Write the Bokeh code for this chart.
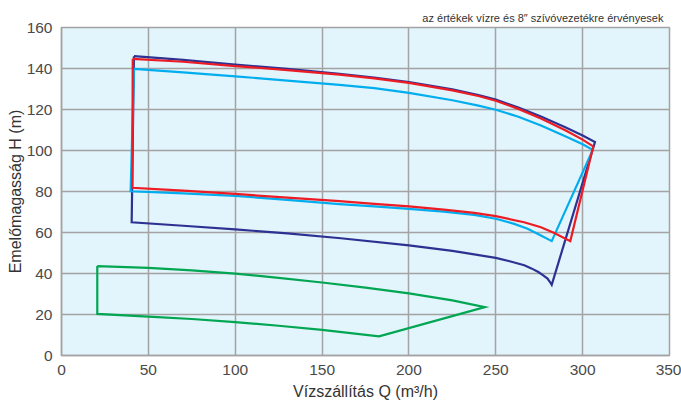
from bokeh.plotting import figure
from bokeh.models import Range1d, FixedTicker, Title
from bokeh.embed import file_html
from bokeh.resources import INLINE

# ---- data (Q in m3/h, H in m) ----
navy_q = [41.7, 70, 100, 130, 160, 180, 200, 225, 240, 250, 263, 276, 290, 300, 307.1,
          282.2, 281.0, 279.8, 277.5, 274.5, 270.5, 266.4, 258, 250, 237.6, 225, 200, 160.8, 130, 100, 70, 40.4, 41.7]
navy_h = [146.0, 144.2, 141.9, 139.8, 137.4, 135.6, 133.4, 129.8, 127.0, 124.8, 121.0, 116.6, 111.3, 107.3, 104.1,
          34.5, 36.1, 37.5, 39.0, 40.7, 42.5, 44.0, 46.0, 47.6, 49.3, 51.0, 53.7, 57.2, 59.6, 61.5, 63.3, 65.0, 146.0]

red_q = [41.0, 70, 100, 130, 160, 180, 200, 225, 240, 250, 263, 276, 290, 300, 306.1,
         292.9, 283.7, 276, 266.3, 250, 237.6, 220, 200, 180, 160, 130, 100, 70, 40.8, 41.0]
red_h = [144.7, 143.3, 141.2, 139.2, 137.0, 135.2, 133.0, 129.3, 126.6, 124.3, 120.3, 115.6, 109.9, 105.3, 102.0,
         55.8, 59.8, 62.6, 65.0, 67.95, 69.6, 71.2, 72.7, 74.0, 75.3, 77.0, 78.8, 80.4, 81.8, 144.7]

cyan_q = [41.7, 70, 100, 130, 160, 180, 200, 225, 240, 250, 263, 276, 290, 300, 305.8,
          282.2, 276, 268.3, 260.6, 250, 237.6, 220, 200, 180, 160, 130, 100, 70, 39.8, 41.7]
cyan_h = [139.8, 138.1, 136.2, 134.1, 132.0, 130.4, 128.1, 124.5, 121.9, 119.9, 116.5, 112.2, 107.0, 103.0, 100.3,
          55.8, 58.5, 61.8, 64.2, 66.7, 68.6, 70.2, 71.5, 72.7, 73.8, 75.9, 77.9, 79.1, 80.1, 139.8]

green_q = [20.6, 50, 75, 100, 125, 150, 175, 200, 225, 243.7,
           182.8, 150, 125, 100, 75, 50, 20.6, 20.6]
green_h = [43.6, 42.7, 41.5, 39.9, 37.9, 35.6, 33.1, 30.3, 26.9, 23.6,
           9.3, 12.5, 14.5, 16.3, 17.8, 19.0, 20.3, 43.6]

x_ticks = [0, 50, 100, 150, 200, 250, 300, 350]
y_ticks = [0, 20, 40, 60, 80, 100, 120, 140, 160]

note = "az értékek vízre és  8\u2033 szívóvezetékre érvényesek"
x_label = "Vízszállítás Q (m³/h)"
y_label = "Emelőmagasság H (m)"

FONT = "Liberation Sans"
GRID = "#a3a3a3"

p = figure(width=681, height=408, x_range=Range1d(0, 350), y_range=Range1d(0, 160),
           output_backend="svg", toolbar_location=None,
           min_border_left=61, min_border_right=12, min_border_top=27, min_border_bottom=53)

p.title.text = note
p.title.align = "right"
p.title.text_font = FONT
p.title.text_font_size = "11px"
p.title.text_font_style = "normal"
p.title.text_color = "#333333"
p.title.standoff = 8
p.title.offset = 3

p.background_fill_color = "#e2f4fc"
p.border_fill_color = "white"
p.outline_line_color = GRID
p.outline_line_width = 1.5

p.xaxis.ticker = FixedTicker(ticks=x_ticks)
p.yaxis.ticker = FixedTicker(ticks=y_ticks)
for ax in (p.xaxis, p.yaxis):
    ax.major_tick_line_color = None
    ax.minor_tick_line_color = None
    ax.major_tick_out = 0
    ax.major_tick_in = 0
    ax.axis_line_color = GRID
    ax.axis_line_width = 1.5
    ax.major_label_text_font = FONT
    ax.major_label_text_font_size = "15.5px"
    ax.major_label_text_color = "#4a4a4a"
    ax.major_label_standoff = 9

p.xaxis.axis_label = x_label
p.xaxis.axis_label_text_font = FONT
p.xaxis.axis_label_text_font_size = "16px"
p.xaxis.axis_label_text_font_style = "normal"
p.xaxis.axis_label_text_color = "#333333"
p.xaxis.axis_label_standoff = 5

ytitle = Title(text=y_label, align="center", offset=18, standoff=0,
               text_font=FONT, text_font_size="16px", text_font_style="normal",
               text_color="#333333")
p.add_layout(ytitle, "left")

p.xgrid.grid_line_color = GRID
p.ygrid.grid_line_color = GRID
p.xgrid.grid_line_width = 1.5
p.ygrid.grid_line_width = 1.5

LW = 2.2
p.line(navy_q, navy_h, line_color="#2e3192", line_width=LW, line_join="miter")
p.line(cyan_q, cyan_h, line_color="#00aeef", line_width=LW, line_join="miter")
p.line(red_q, red_h, line_color="#ed1c24", line_width=LW, line_join="miter")
p.line(green_q, green_h, line_color="#00a651", line_width=LW, line_join="miter")

open("out.html", "w").write(file_html(p, INLINE))
